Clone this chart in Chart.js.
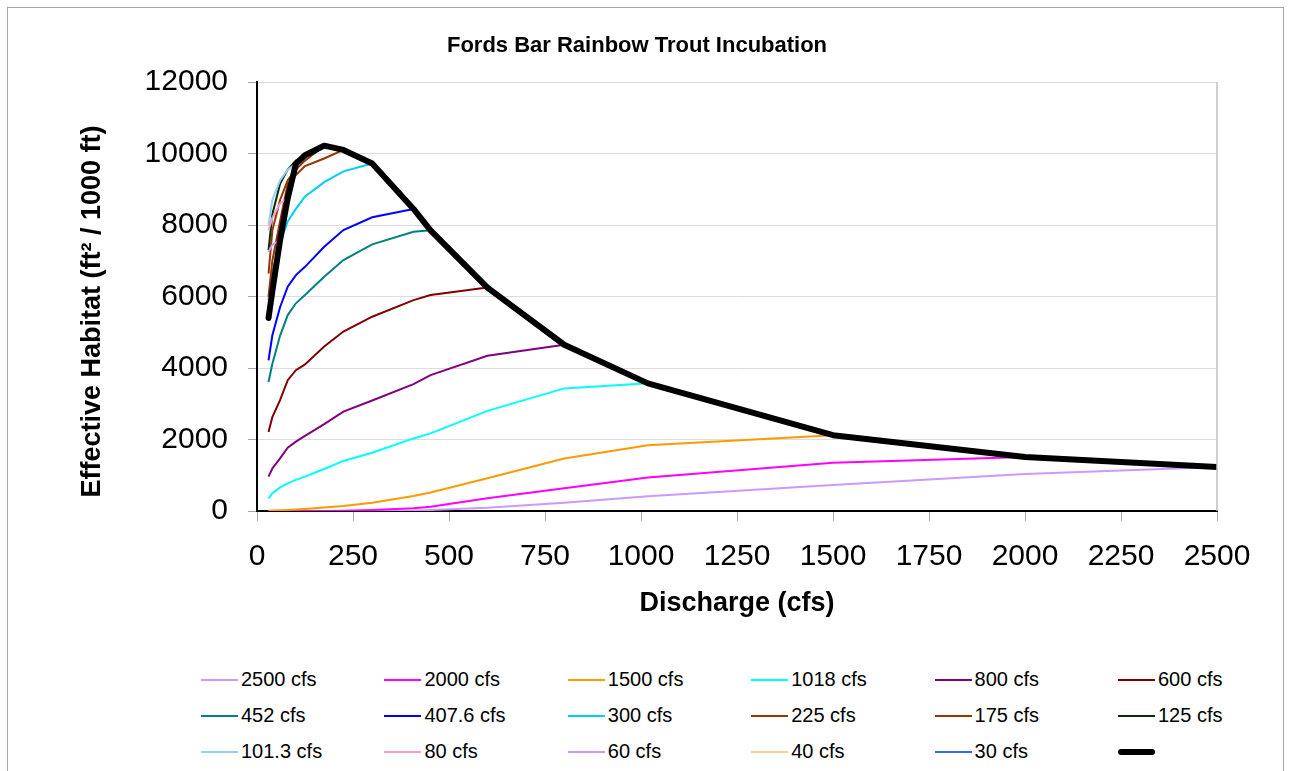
<!doctype html>
<html>

<head>
	<title>Fords Bar Rainbow Trout Incubation</title>
	<script src="https://cdn.jsdelivr.net/npm/chart.js@4/dist/chart.umd.min.js"></script>
	<style>
	body {
		margin: 0;
		background: #fff;
		font-family: 'Liberation Sans', Arial, sans-serif;
	}
	.frame {
		position: absolute;
		left: 7px;
		top: 7px;
		width: 1275px;
		height: 770px;
		border: 1px solid #a6a6a6;
	}
	.chart-box {
		position: absolute;
		left: 0;
		top: 0;
	}
	.legend-item {
		position: absolute;
		height: 20px;
		font-size: 20px;
		line-height: 20px;
		color: #000;
		white-space: nowrap;
	}
	.legend-item .swatch {
		position: absolute;
		left: 0;
		top: 9px;
		width: 37px;
		height: 2px;
	}
	.legend-item .text {
		position: absolute;
		left: 40px;
		top: -1px;
	}
	</style>
</head>

<body>
	<div class="frame"></div>
	<div class="chart-box"><canvas id="chart" width="1277" height="640"></canvas></div>
	<div id="legend"></div>
	<script>
		// discharge points (cfs) shared by every curve
		var discharge = [30, 40, 60, 80, 101.3, 125, 175, 225, 300, 407.6, 452, 600, 800, 1018, 1500, 2000, 2500];

		// effective habitat for each incubation flow
		var flow2500 = [0, 0, 0, 0, 0, 0, 0, 0, 3, 12, 30, 90, 230, 410, 730, 1035, 1230];
		var flow2000 = [0, 0, 0, 0, 0, 0, 3, 8, 28, 75, 120, 355, 635, 935, 1350, 1510];
		var flow1500 = [10, 12, 18, 28, 40, 55, 95, 140, 230, 420, 520, 915, 1470, 1840, 2120];
		var flow1018 = [355, 495, 660, 775, 870, 960, 1175, 1400, 1630, 2030, 2170, 2800, 3430, 3570];
		var flow800 = [960, 1190, 1470, 1770, 1940, 2100, 2430, 2780, 3090, 3550, 3800, 4340, 4650];
		var flow600 = [2210, 2630, 3100, 3660, 3940, 4100, 4600, 5020, 5435, 5900, 6040, 6250];
		var flow452 = [3610, 4120, 4900, 5480, 5810, 6040, 6550, 7020, 7460, 7810, 7850];
		var flow407 = [4215, 4915, 5700, 6275, 6600, 6830, 7390, 7860, 8215, 8450];
		var flow300 = [5900, 6700, 7500, 8100, 8450, 8800, 9200, 9500, 9720];
		var flow225 = [6000, 7000, 8100, 9150, 9400, 9650, 9860, 10100];
		var flow175 = [6640, 7850, 8700, 9250, 9550, 9800, 10220];
		var flow125 = [7300, 8300, 9150, 9550, 9800, 9950];
		var flow101 = [8000, 8700, 9250, 9550, 9710];
		var flow80 = [7850, 8200, 8600, 8750];
		var flow60 = [7250, 7450, 7570];
		var flow40 = [5900, 6150];
		var flow30 = [5400];

		// envelope (black line)
		var envelope = [5400, 6150, 7570, 8750, 9710, 9950, 10220, 10100, 9720, 8450, 7850, 6250, 4650, 3570, 2120, 1510, 1230];

		var seriesLabels = ['2500 cfs', '2000 cfs', '1500 cfs', '1018 cfs', '800 cfs', '600 cfs',
			'452 cfs', '407.6 cfs', '300 cfs', '225 cfs', '175 cfs', '125 cfs',
			'101.3 cfs', '80 cfs', '60 cfs', '40 cfs', '30 cfs'];
		var seriesValues = [flow2500, flow2000, flow1500, flow1018, flow800, flow600,
			flow452, flow407, flow300, flow225, flow175, flow125,
			flow101, flow80, flow60, flow40, flow30];
		var seriesColors = ['#cc99ff', '#ff00ff', '#ff9900', '#00ffff', '#800080', '#800000',
			'#008080', '#0000ff', '#00ccff', '#993300', '#993300', '#003300',
			'#99ccff', '#ff99cc', '#cc99ff', '#ffcc99', '#3366ff'];

		function toPoints(values) {
			return values.map(function(v, i) {
				return {x: discharge[i], y: v};
			});
		}

		// later series sit on top of earlier ones, black envelope above all
		var datasets = seriesLabels.map(function(label, i) {
			return {
				label: label,
				data: toPoints(seriesValues[i]),
				borderColor: seriesColors[i],
				backgroundColor: seriesColors[i],
				borderWidth: 2,
				pointRadius: 0,
				showLine: true,
				order: 100 - i
			};
		});
		datasets.push({
			label: '',
			data: toPoints(envelope),
			borderColor: '#000',
			backgroundColor: '#000',
			borderWidth: 6,
			borderCapStyle: 'round',
			borderJoinStyle: 'round',
			pointRadius: 0,
			showLine: true,
			order: 0
		});

		var plotBorder = {
			id: 'plotBorder',
			afterDraw: function(chart) {
				var a = chart.chartArea;
				var ctx = chart.ctx;
				ctx.save();
				ctx.strokeStyle = '#bfbfbf';
				ctx.lineWidth = 1.5;
				ctx.beginPath();
				ctx.moveTo(a.right, a.top);
				ctx.lineTo(a.right, a.bottom);
				ctx.stroke();
				ctx.restore();
			}
		};

		function plain(value) {
			return String(value);
		}

		Chart.defaults.font.family = "'Liberation Sans', Arial, sans-serif";
		Chart.defaults.color = '#000';

		new Chart(document.getElementById('chart').getContext('2d'), {
			type: 'scatter',
			data: {datasets: datasets},
			plugins: [plotBorder],
			options: {
				responsive: false,
				animation: false,
				layout: {padding: {left: 57, right: 60, top: 0, bottom: 0}},
				plugins: {
					legend: {display: false},
					tooltip: {enabled: false},
					title: {
						display: true,
						text: 'Fords Bar Rainbow Trout Incubation',
						color: '#000',
						font: {size: 22, weight: 'bold'},
						padding: {top: 33, bottom: 22.6}
					}
				},
				scales: {
					x: {
						type: 'linear',
						min: 0,
						max: 2500,
						ticks: {stepSize: 250, padding: 18, color: '#000', font: {size: 30}, maxRotation: 0, autoSkip: false, callback: plain},
						grid: {drawOnChartArea: false, tickLength: 10, color: '#a6a6a6'},
						border: {color: '#000', width: 2},
						title: {
							display: true,
							text: 'Discharge (cfs)',
							color: '#000',
							font: {size: 27, weight: 'bold'},
							padding: {top: 0, bottom: 20}
						},
						afterFit: function(scale) { scale.height = 129; }
					},
					y: {
						min: 0,
						max: 12000,
						ticks: {stepSize: 2000, padding: 20, color: '#000', font: {size: 30}, callback: plain},
						grid: {color: '#dcdcdc', tickLength: 9, tickColor: '#a6a6a6'},
						border: {color: '#000', width: 2},
						title: {
							display: true,
							text: 'Effective Habitat (ft² / 1000 ft)\u00a0\u00a0\u00a0\u00a0',
							color: '#000',
							font: {size: 27, weight: 'bold'},
							padding: {top: 19, bottom: 0}
						},
						afterFit: function(scale) { scale.width = 200; }
					}
				}
			}
		});

		// legend grid, 6 columns x 3 rows as in the original
		var legend = document.getElementById('legend');
		var entries = seriesLabels.map(function(l, i) { return {text: l, color: seriesColors[i], w: 2}; });
		entries.push({text: '', color: '#000', w: 6});
		entries.forEach(function(e, i) {
			var col = i % 6, row = Math.floor(i / 6);
			var item = document.createElement('div');
			item.className = 'legend-item';
			item.style.left = (201 + col * 183.4) + 'px';
			item.style.top = (670 + row * 36) + 'px';
			var sw = document.createElement('span');
			sw.className = 'swatch';
			sw.style.background = e.color;
			sw.style.height = e.w + 'px';
			sw.style.top = (10 - e.w / 2) + 'px';
			if (e.w > 2) sw.style.borderRadius = '3px';
			item.appendChild(sw);
			var tx = document.createElement('span');
			tx.className = 'text';
			tx.textContent = e.text;
			item.appendChild(tx);
			legend.appendChild(item);
		});
	</script>
</body>

</html>
